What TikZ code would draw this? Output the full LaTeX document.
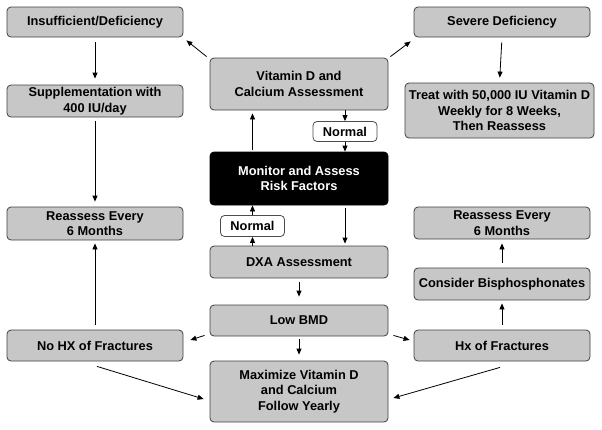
\documentclass[tikz,border=0pt]{standalone}
\usepackage{fontspec}
\setmainfont{Liberation Sans}
\usetikzlibrary{arrows.meta,calc}
\begin{document}
\begin{tikzpicture}[x=1pt,y=-1pt,
  box/.style={draw=black!75, line width=0.8pt, fill=black!22, rounded corners=4pt,
    align=center, inner sep=1pt, font=\fontsize{12.8}{15.4}\selectfont\bfseries},
  darkbox/.style={box, fill=black, draw=black, text=white},
  normbox/.style={box, fill=white, draw=black!70},
  arr/.style={-{Triangle[length=6pt,width=5pt]}, line width=0.8pt, black}
]
\useasboundingbox (0,0) rectangle (602,429);
% left column
\node[box, minimum width=176pt, minimum height=30pt] (ins) at (95,22) {Insufficient/Deficiency};
\node[box, minimum width=176pt, minimum height=32pt] (supp) at (95,101) {Supplementation with\\400 IU/day};
\node[box, minimum width=176pt, minimum height=33pt] (reL) at (95,223.5) {Reassess Every\\6 Months};
\node[box, minimum width=176pt, minimum height=31pt] (nohx) at (95,345.5) {No HX of Fractures};
% centre column
\node[box, minimum width=178pt, minimum height=52pt] (vit) at (299,84) {Vitamin D and\\Calcium Assessment};
\node[normbox, minimum width=64pt, minimum height=20pt] (norm1) at (345,131.5) {Normal};
\node[darkbox, minimum width=178pt, minimum height=53pt] (mon) at (299,178.5) {Monitor and Assess\\Risk Factors};
\node[normbox, minimum width=64pt, minimum height=21pt] (norm2) at (252.5,226) {Normal};
\node[box, minimum width=178pt, minimum height=32pt] (dxa) at (299,262) {DXA Assessment};
\node[box, minimum width=178pt, minimum height=31pt] (low) at (299,320.5) {Low BMD};
\node[box, minimum width=178pt, minimum height=61pt] (max) at (299,391.5) {Maximize Vitamin D\\and Calcium\\Follow Yearly};
% right column
\node[box, minimum width=176pt, minimum height=30pt] (sev) at (502,22) {Severe Deficiency};
\node[box, minimum width=189pt, minimum height=55pt] (treat) at (499.5,110.5) {Treat with 50,000 IU Vitamin D\\Weekly for 8 Weeks,\\Then Reassess};
\node[box, minimum width=176pt, minimum height=32pt] (reR) at (502,223) {Reassess Every\\6 Months};
\node[box, minimum width=176pt, minimum height=32pt] (cons) at (502,284) {Consider Bisphosphonates};
\node[box, minimum width=176pt, minimum height=31pt] (hx) at (502,345.5) {Hx of Fractures};
% connectors
\draw[arr] ([shift={(-3,-1)}]vit.north west) -- ([shift={(3,3)}]ins.south east);
\draw[arr] ([shift={(2,-1)}]vit.north east) -- ([shift={(-3,4)}]sev.south west);
\draw[arr, shorten <=5pt, shorten >=6pt] (ins.south) -- (supp.north);
\draw[arr, shorten <=5pt, shorten >=5pt] (sev.south) -- (treat.north);
\draw[arr, shorten <=4pt, shorten >=5pt] (supp.south) -- (reL.north);
\draw[arr, shorten <=5pt, shorten >=3pt] (nohx.north) -- (reL.south);
\draw[arr, shorten <=5pt, shorten >=3pt] (hx.north) -- (cons.south);
\draw[arr, shorten <=5pt, shorten >=4pt] (cons.north) -- (reR.south);
\draw[arr] ([shift={(-5,-1)}]low.south west) -- ([shift={(7,-5.5)}]nohx.east);
\draw[arr] ([shift={(5,-1)}]low.south east) -- ([shift={(-4,-5.5)}]hx.west);
\draw[arr] ([shift={(2,5)}]nohx.south) -- ([shift={(-6,7.5)}]max.west);
\draw[arr] ([shift={(-2,6)}]hx.south) -- ([shift={(5,6.5)}]max.east);
\draw[arr, shorten <=2pt, shorten >=3pt] (mon.north -| norm2) -- (vit.south -| norm2);
\draw[arr] (vit.south -| norm1) -- (norm1.north);
\draw[arr] (norm1.south) -- (mon.north -| norm1);
\draw[arr, shorten <=3pt, shorten >=2pt] (mon.south -| norm1) -- (dxa.north -| norm1);
\draw[arr] (dxa.north -| norm2) -- (norm2.south);
\draw[arr] (norm2.north) -- (mon.south -| norm2);
\draw[arr, shorten <=4pt, shorten >=8pt] (dxa.south) -- (low.north);
\draw[arr, shorten <=3pt, shorten >=6pt] (low.south) -- (max.north);
\end{tikzpicture}
\end{document}
